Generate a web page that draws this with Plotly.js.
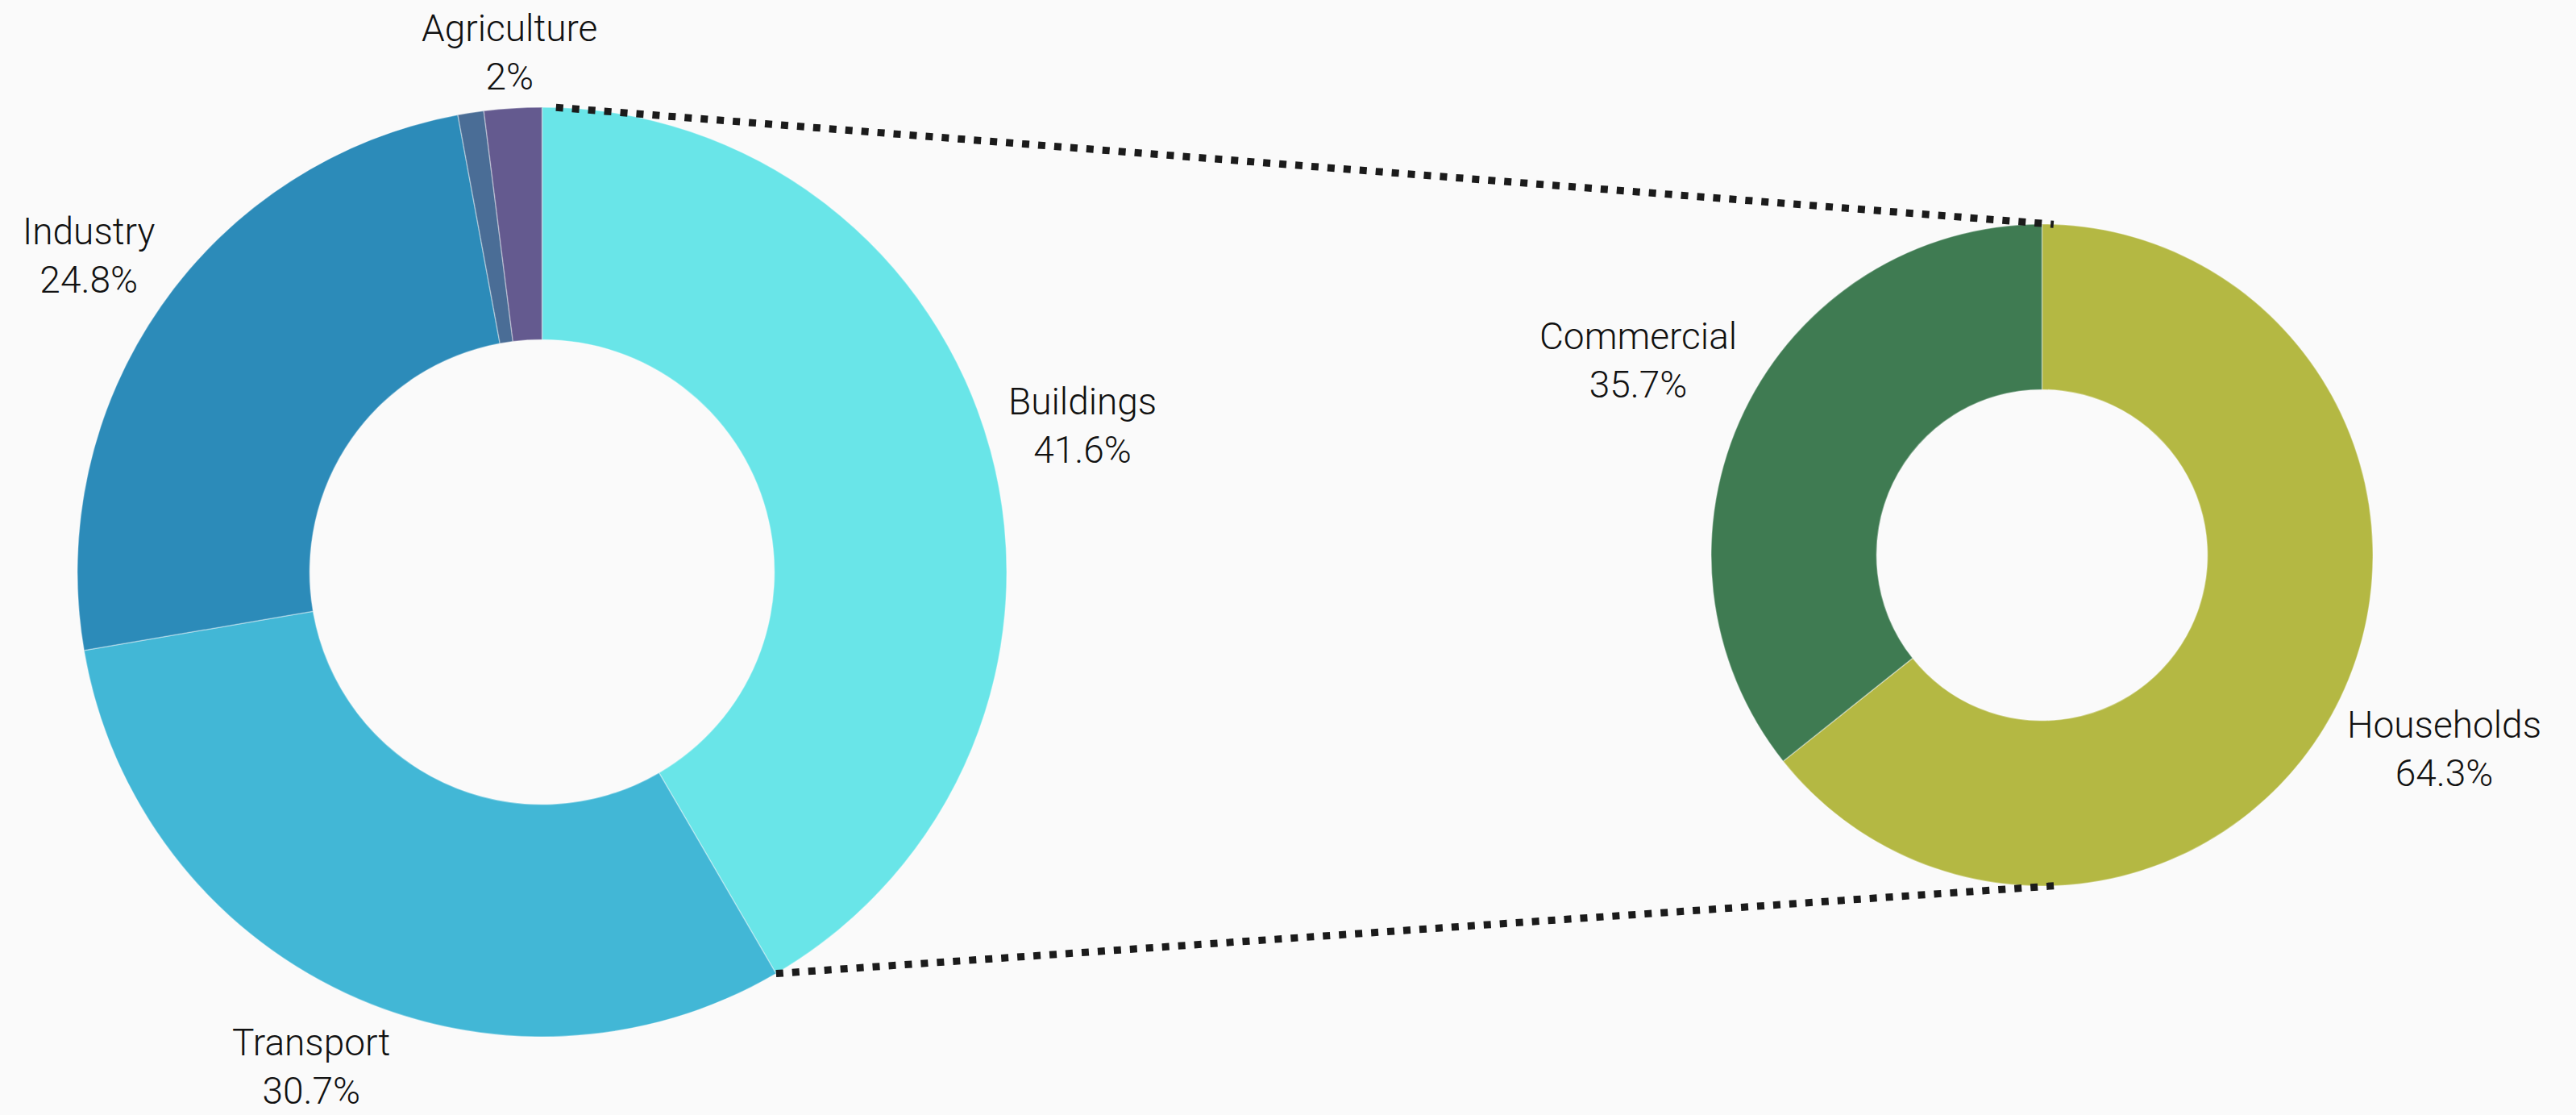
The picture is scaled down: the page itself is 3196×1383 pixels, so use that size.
<!DOCTYPE html>
<html>
<head>
<meta charset="utf-8">
<script src="https://cdn.plot.ly/plotly-3.0.1.min.js"></script>
<style>
  html, body { margin: 0; padding: 0; background: #fafafa; }
  #chart { width: 3196px; height: 1383px; }
</style>
</head>
<body>
<div id="chart"></div>
<script>
// ---- data ----
var sectorLabels = ['Buildings', 'Transport', 'Industry', 'Other', 'Agriculture'];
var sectorValues = [41.6, 30.7, 24.8, 0.9, 2.0];
var sectorShowLabel = [true, true, true, false, true];

var buildingLabels = ['Households', 'Commercial'];
var buildingValues = [64.3, 35.7];

// ---- styles / layout config ----
var sectorColors = ['#69e5e8', '#42b7d6', '#2c8bb9', '#4a6d96', '#645a8f'];
var buildingColors = ['#b4b843', '#3f7b52'];
var sectorLabelDist = [1.205, 1.175, 1.19, 1.15, 1.12];
var buildingLabelDist = [1.35, 1.355];

var W = 3196, H = 1383;
var pieA = { cx: 672.5, cy: 709.5, r: 576.5 };
var pieB = { cx: 2533.5, cy: 688.5, r: 410.5 };

function domainFor(p) {
  return {
    x: [(p.cx - p.r) / W, (p.cx + p.r) / W],
    y: [1 - (p.cy + p.r) / H, 1 - (p.cy - p.r) / H]
  };
}
function px2paper(x, y) { return [x / W, 1 - y / H]; }

function fmtPct(v, total) {
  var p = Math.round(v / total * 1000) / 10;
  return (p % 1 === 0 ? p.toFixed(0) : p.toFixed(1)) + '%';
}

// angle (clockwise from 12 o'clock, radians) of the slice boundaries
function boundaries(values) {
  var total = values.reduce(function (a, b) { return a + b; }, 0);
  var out = [0], c = 0;
  values.forEach(function (v) { c += v; out.push(c / total * 2 * Math.PI); });
  return out;
}
function pointAt(p, ang, dist) {
  return [p.cx + dist * Math.sin(ang), p.cy - dist * Math.cos(ang)];
}

var annotations = [];
var font = { family: 'Roboto, "Liberation Sans", Arial, sans-serif', size: 46, color: '#111111', weight: 300 };

function addLabels(p, labels, values, dists, show) {
  var b = boundaries(values);
  var total = values.reduce(function (a, c) { return a + c; }, 0);
  labels.forEach(function (lab, i) {
    if (show && !show[i]) return;
    var mid = (b[i] + b[i + 1]) / 2;
    var pt = pointAt(p, mid, p.r * dists[i]);
    var pp = px2paper(pt[0], pt[1]);
    annotations.push({
      xref: 'paper', yref: 'paper', x: pp[0], y: pp[1],
      xanchor: 'center', yanchor: 'middle', align: 'center',
      showarrow: false,
      text: lab + '<br>' + fmtPct(values[i], total),
      font: font
    });
  });
}
addLabels(pieA, sectorLabels, sectorValues, sectorLabelDist, sectorShowLabel);
addLabels(pieB, buildingLabels, buildingValues, buildingLabelDist, null);

// connector lines
var bA = boundaries(sectorValues);
var topA = pointAt(pieA, 0.03, pieA.r);
var buildEnd = pointAt(pieA, bA[1], pieA.r);
var topB = pointAt(pieB, 0.035, pieB.r);
var botB = pointAt(pieB, Math.PI - 0.04, pieB.r);

function lineShape(a, b) {
  var pa = px2paper(a[0], a[1]), pb = px2paper(b[0], b[1]);
  return {
    type: 'line', xref: 'paper', yref: 'paper',
    x0: pa[0], y0: pa[1], x1: pb[0], y1: pb[1],
    line: { color: '#1b1b1b', width: 9, dash: '9px,11px' }
  };
}

var traces = [
  {
    type: 'pie', labels: sectorLabels, values: sectorValues,
    hole: 0.5, sort: false, direction: 'clockwise', rotation: 0,
    textinfo: 'none', hoverinfo: 'label+percent',
    marker: { colors: sectorColors, line: { color: 'rgba(255,255,255,0.35)', width: 1.5 } },
    domain: domainFor(pieA), showlegend: false
  },
  {
    type: 'pie', labels: buildingLabels, values: buildingValues,
    hole: 0.5, sort: false, direction: 'clockwise', rotation: 0,
    textinfo: 'none', hoverinfo: 'label+percent',
    marker: { colors: buildingColors, line: { color: 'rgba(255,255,255,0.35)', width: 1.5 } },
    domain: domainFor(pieB), showlegend: false
  }
];

var layout = {
  width: W, height: H,
  margin: { l: 0, r: 0, t: 0, b: 0 },
  paper_bgcolor: '#fafafa', plot_bgcolor: '#fafafa',
  showlegend: false,
  annotations: annotations,
  shapes: [lineShape(topA, topB), lineShape(buildEnd, botB)]
};

Plotly.newPlot('chart', traces, layout, { displayModeBar: false, staticPlot: true });
</script>
</body>
</html>
